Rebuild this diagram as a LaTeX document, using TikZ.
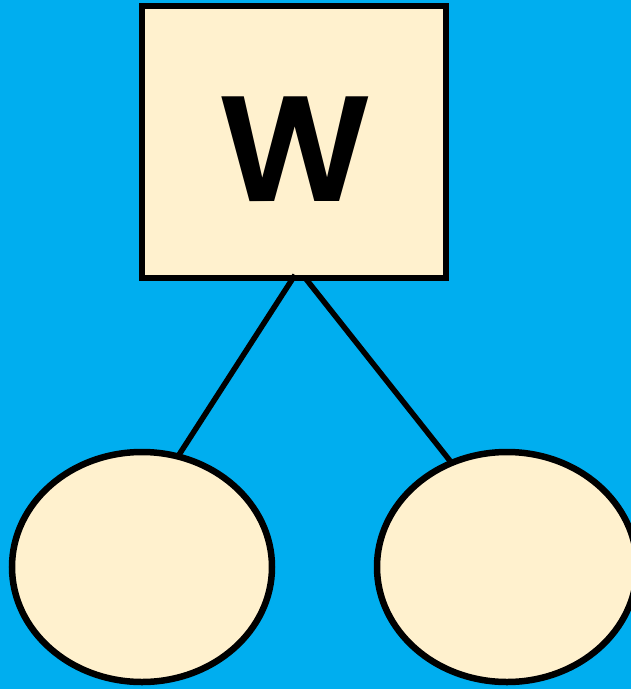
\documentclass[tikz,border=0pt]{standalone}
\usepackage{fontspec}
\newfontfamily\labelfont{Poppins}[UprightFont={* SemiBold}]
\usetikzlibrary{shapes.geometric}
\definecolor{sky}{HTML}{00AEEF}
\definecolor{cream}{HTML}{FFF1CE}
\tikzset{
  box/.style={draw=black, fill=cream, line width=6.5pt, rectangle, inner sep=0pt, outer sep=0pt,
    minimum width=304pt, minimum height=272pt},
  leaf/.style={draw=black, fill=cream, line width=6.5pt, ellipse, inner sep=0pt, outer sep=0pt,
    minimum width=260pt, minimum height=230pt},
  link/.style={draw=black, line width=5.5pt},
  bigletter/.style={font=\labelfont\fontsize{150}{150}\selectfont, inner sep=0pt}
}
\begin{document}
\begin{tikzpicture}[x=1pt, y=-1pt]
  % canvas
  \useasboundingbox (0,0) rectangle (631,689);
  \fill[sky] (0,0) rectangle (631,689);
  \clip (0,0) rectangle (631,689);
  % parent box and its two children
  \node[box] (w) at (294,142) {};
  \node[bigletter] (wl) at (295,149) {W};
  \node[leaf] (l) at (142,567) {};
  \node[leaf] (r) at (507,567) {};
  % connectors
  \draw[link] ([xshift=1pt,yshift=3pt]w.south) -- (l.72);
  \draw[link] ([xshift=12pt,yshift=-1pt]w.south) -- (r.118);
\end{tikzpicture}
\end{document}
